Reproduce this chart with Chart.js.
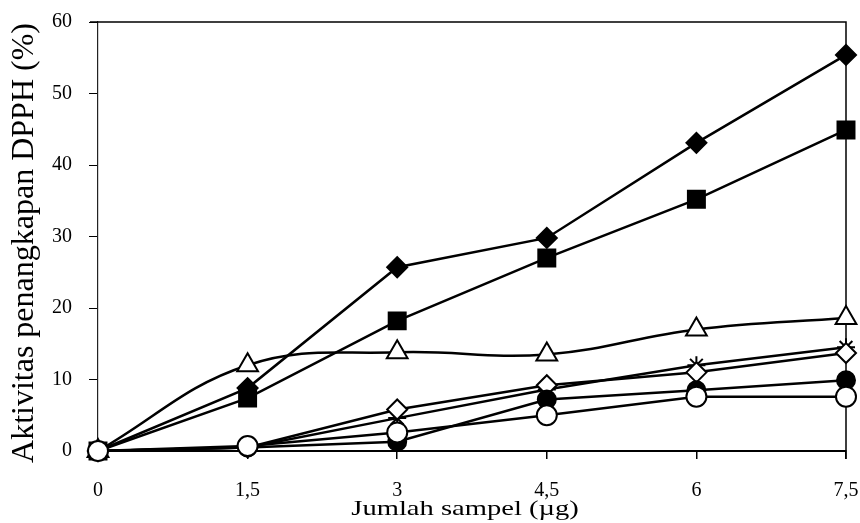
<!DOCTYPE html>
<html>
<head>
<meta charset="utf-8">
<script src="https://cdn.jsdelivr.net/npm/chart.js@4.4.1/dist/chart.umd.min.js"></script>
<style>
  html, body { margin: 0; padding: 0; background: #fff; }
  #wrap { width: 860px; height: 523px; }
</style>
</head>
<body>
<div id="wrap"><canvas id="chart"></canvas></div>
<script>
// sample amounts (µg) and tick labels
const sampleAmounts = [0, 1.5, 3, 4.5, 6, 7.5];
const xTickLabels = ['0', '1,5', '3', '4,5', '6', '7,5'];
const yTickValues = [0, 10, 20, 30, 40, 50, 60];

// DPPH scavenging activity (%) per series
const filledDiamond = [0, 8.8, 25.7, 29.8, 43.1, 55.4];
const filledSquare = [0, 7.4, 18.2, 27.0, 35.2, 44.9];
const openTriangle = [0, 12.0, 13.8, 13.5, 17.0, 18.6];
const crossStar = [0, 0.5, 4.6, 8.6, 12.0, 14.5];
const openDiamond = [0, 0.5, 5.8, 9.2, 11.0, 13.7];
const filledCircle = [0, 0.5, 1.3, 7.2, 8.5, 9.9];
const openCircle = [0, 0.7, 2.6, 5.0, 7.6, 7.6];

const xTitle = 'Jumlah sampel (µg)';
const yTitle = 'Aktivitas penangkapan DPPH (%)';

const serif = '"Liberation Serif", "DejaVu Serif", serif';

function toPoints(values) {
    return sampleAmounts.map((x, i) => ({ x: x, y: values[i] }));
}

function series(values, style, fill, radius, tension) {
    return {
        data: toPoints(values),
        borderColor: '#000',
        borderWidth: 2.5,
        pointStyle: style,
        pointRadius: radius,
        pointBackgroundColor: fill,
        pointBorderColor: '#000',
        pointBorderWidth: 2,
        tension: tension || 0,
        clip: false,
        fill: false
    };
}

// top/right frame plus both axis titles
const framePlugin = {
    id: 'frame',
    beforeDatasetsDraw(chart) {
        const { ctx, chartArea } = chart;
        ctx.save();
        ctx.strokeStyle = '#000';
        ctx.lineWidth = 1.5;
        ctx.beginPath();
        ctx.moveTo(chartArea.left - 8, chartArea.top);
        ctx.lineTo(chartArea.right, chartArea.top);
        ctx.lineTo(chartArea.right, chartArea.bottom + 8);
        ctx.stroke();
        ctx.restore();
    },
    afterDraw(chart) {
        const { ctx } = chart;
        ctx.save();
        ctx.fillStyle = '#000';
        ctx.textAlign = 'center';
        ctx.textBaseline = 'alphabetic';
        // x title, wide like the scanned original
        ctx.font = '21px ' + serif;
        ctx.translate(465, 515);
        ctx.scale(1.36, 1);
        ctx.fillText(xTitle, 0, 0);
        ctx.restore();

        ctx.save();
        ctx.fillStyle = '#000';
        ctx.textAlign = 'center';
        ctx.textBaseline = 'alphabetic';
        ctx.font = '32px ' + serif;
        ctx.translate(33, 243);
        ctx.rotate(-Math.PI / 2);
        ctx.fillText(yTitle, 0, 0);
        ctx.restore();
    }
};

new Chart(document.getElementById('chart'), {
    type: 'line',
    data: {
        datasets: [
            series(openCircle, 'circle', '#fff', 10),
            series(filledCircle, 'circle', '#000', 9),
            series(openDiamond, 'rectRot', '#fff', 10),
            series(crossStar, 'star', '#000', 9),
            series(openTriangle, 'triangle', '#fff', 12, 0.4),
            series(filledSquare, 'rect', '#000', 12),
            series(filledDiamond, 'rectRot', '#000', 10)
        ]
    },
    options: {
        responsive: true,
        maintainAspectRatio: false,
        animation: false,
        layout: { autoPadding: false, padding: { top: 22, right: 14, left: 0, bottom: 0 } },
        plugins: {
            legend: { display: false },
            tooltip: { enabled: false }
        },
        scales: {
            x: {
                type: 'linear',
                min: 0,
                max: 7.5,
                afterBuildTicks: scale => {
                    scale.ticks = sampleAmounts.map(v => ({ value: v }));
                },
                afterFit: scale => {
                    scale.height = 72;
                    scale.paddingLeft = 0;
                    scale.paddingRight = 0;
                },
                grid: {
                    drawOnChartArea: false,
                    drawTicks: true,
                    tickLength: 8,
                    color: '#000',
                    lineWidth: 1.5
                },
                border: { display: true, color: '#000', width: 2 },
                ticks: {
                    color: '#000',
                    padding: 20,
                    maxRotation: 0,
                    font: { family: serif, size: 20 },
                    callback: (value, i) => xTickLabels[i]
                }
            },
            y: {
                min: 0,
                max: 60,
                afterBuildTicks: scale => {
                    scale.ticks = yTickValues.map(v => ({ value: v }));
                },
                afterFit: scale => {
                    scale.width = 98;
                    scale.paddingTop = 0;
                    scale.paddingBottom = 0;
                },
                grid: {
                    drawOnChartArea: false,
                    drawTicks: true,
                    tickLength: 9,
                    color: '#000',
                    lineWidth: 1
                },
                border: { display: true, color: '#222', width: 1.2 },
                ticks: {
                    color: '#000',
                    padding: 17,
                    font: { family: serif, size: 20 }
                }
            }
        }
    },
    plugins: [framePlugin]
});
</script>
</body>
</html>
